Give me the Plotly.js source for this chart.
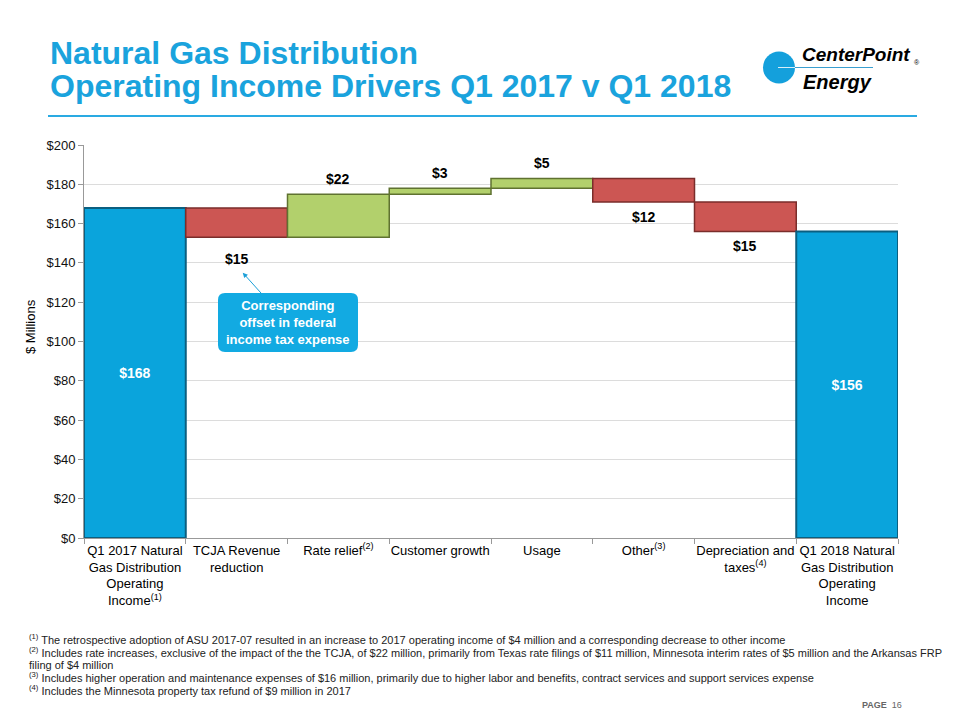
<!DOCTYPE html>
<html>
<head>
<meta charset="utf-8">
<script src="https://cdn.plot.ly/plotly-3.0.1.min.js"></script>
<style>
html,body{margin:0;padding:0;background:#fff;}
#chart{width:960px;height:720px;}
</style>
</head>
<body>
<div id="chart"></div>
<script>
// ---- data ----
const categories = [
  "Q1 2017 Natural<br>Gas Distribution<br>Operating<br>Income<sup>(1)</sup>",
  "TCJA Revenue<br>reduction",
  "Rate relief<sup>(2)</sup>",
  "Customer growth",
  "Usage",
  "Other<sup>(3)</sup>",
  "Depreciation and<br>taxes<sup>(4)</sup>",
  "Q1 2018 Natural<br>Gas Distribution<br>Operating<br>Income"
];
const measures = ["absolute","relative","relative","relative","relative","relative","relative","total"];
const values = [168, -15, 22, 3, 5, -12, -15, 0];
const tickVals = [0, 20, 40, 60, 80, 100, 120, 140, 160, 180, 200];
const footnotes = [
  "<sup>(1)</sup> The retrospective adoption of ASU 2017-07 resulted in an increase to 2017 operating income of $4 million and a corresponding decrease to other income",
  "<sup>(2)</sup> Includes rate increases, exclusive of the impact of the the TCJA, of $22 million, primarily from Texas rate filings of $11 million, Minnesota interim rates of $5 million and the Arkansas FRP",
  "filing of $4 million",
  "<sup>(3)</sup> Includes higher operation and maintenance expenses of $16 million, primarily due to higher labor and benefits, contract services and support services expense",
  "<sup>(4)</sup> Includes the Minnesota property tax refund of $9 million in 2017"
];

const FONT = "Arial, 'Liberation Sans', sans-serif";
const BLUE = "#0aa4dc";

// pixel -> paper helpers (plot area: x 84..898, y 145..538)
const L = 84, T = 145, W = 814, H = 393;
const px = p => (p - L) / W;
const py = p => (T + H - p) / H;

// running totals for labels
let run = 0;
const ends = [];
values.forEach((v, i) => {
  if (measures[i] === "absolute") run = v;
  else if (measures[i] === "relative") run += v;
  ends.push(run);
});
const insideText = values.map((v, i) => measures[i] === "relative" ? "" : "$" + ends[i]);

const annotations = [];
values.forEach((v, i) => {
  if (measures[i] !== "relative") return;
  const top = Math.max(ends[i], ends[i] - v);
  const bottom = Math.min(ends[i], ends[i] - v);
  annotations.push({
    x: categories[i], y: v > 0 ? top : bottom, xref: "x", yref: "y",
    text: "<b>$" + Math.abs(v) + "</b>", showarrow: false,
    yshift: v > 0 ? 15 : (i === 1 ? -22 : -15),
    font: {family: FONT, size: 14, color: "#000"}
  });
});

// callout (rounded box drawn as shape)
annotations.push({
  x: 1.06, y: 135, xref: "x", yref: "y",
  ax: 45, ay: 50,
  text: "<b>Corresponding<br>offset in federal<br>income tax expense</b>",
  showarrow: true, arrowhead: 2, arrowsize: 1, arrowwidth: 1, arrowcolor: "#1a9fd8",
  borderpad: 4,
  font: {family: FONT, size: 13, color: "#fff"}, align: "center"
});

// title (two lines)
annotations.push({
  xref: "paper", yref: "paper", x: px(48), y: py(53), xanchor: "left", yanchor: "middle",
  text: "<b>Natural Gas Distribution</b>", showarrow: false,
  font: {family: FONT, size: 32, color: "#1aa3dd"}
});
annotations.push({
  xref: "paper", yref: "paper", x: px(48), y: py(86), xanchor: "left", yanchor: "middle",
  text: "<b>Operating Income Drivers Q1 2017 v Q1 2018</b>", showarrow: false,
  font: {family: FONT, size: 32, color: "#1aa3dd"}
});

// y axis title
annotations.push({
  xref: "paper", yref: "paper", x: px(30), y: py(327), xanchor: "center", yanchor: "middle",
  text: "$ Millions", textangle: -90, showarrow: false,
  font: {family: FONT, size: 13, color: "#000"}
});

// logo text
annotations.push({
  xref: "paper", yref: "paper", x: px(800), y: py(54), xanchor: "left", yanchor: "middle",
  text: "<b><i>CenterPoint</i></b>", showarrow: false,
  font: {family: FONT, size: 19, color: "#000"}
});
annotations.push({
  xref: "paper", yref: "paper", x: px(912), y: py(62), xanchor: "left", yanchor: "middle",
  text: "®", showarrow: false,
  font: {family: FONT, size: 7, color: "#000"}
});
annotations.push({
  xref: "paper", yref: "paper", x: px(801), y: py(82), xanchor: "left", yanchor: "middle",
  text: "<b><i>Energy</i></b>", showarrow: false,
  font: {family: FONT, size: 20, color: "#000"}
});

// footnotes
const fnY = [639, 652, 665, 677, 690];
footnotes.forEach((t, i) => {
  annotations.push({
    xref: "paper", yref: "paper", x: px(27), y: py(fnY[i]),
    xanchor: "left", yanchor: "middle", text: t, showarrow: false, align: "left",
    font: {family: FONT, size: 11, color: "#222"}
  });
});
annotations.push({
  xref: "paper", yref: "paper", x: px(904), y: py(705),
  xanchor: "right", yanchor: "middle", text: "<b>PAGE</b>  16", showarrow: false,
  font: {family: FONT, size: 9, color: "#666"}
});

// rounded rectangle path for callout box (pixel extents -> paper)
function roundRect(x0, y0, x1, y1, r) {
  const P = (x, y) => px(x) + "," + py(y);
  return "M" + P(x0 + r, y0) + " L" + P(x1 - r, y0) + " Q" + P(x1, y0) + " " + P(x1, y0 + r) +
    " L" + P(x1, y1 - r) + " Q" + P(x1, y1) + " " + P(x1 - r, y1) +
    " L" + P(x0 + r, y1) + " Q" + P(x0, y1) + " " + P(x0, y1 - r) +
    " L" + P(x0, y0 + r) + " Q" + P(x0, y0) + " " + P(x0 + r, y0) + " Z";
}

const trace = {
  type: "waterfall",
  x: categories,
  y: values,
  measure: measures,
  text: insideText,
  textposition: "inside",
  insidetextanchor: "middle",
  textfont: {family: FONT, size: 14, color: "#fff", weight: "bold"},
  connector: {visible: false},
  increasing: {marker: {color: "#b2d06c", line: {color: "#5f7230", width: 1.5}}},
  decreasing: {marker: {color: "#cc5653", line: {color: "#7a2d2b", width: 1.5}}},
  totals: {marker: {color: BLUE, line: {color: "#0b5f80", width: 2}}},
  hoverinfo: "skip"
};

const layout = {
  width: 960, height: 720,
  margin: {l: L, r: 960 - L - W, t: T, b: 720 - T - H},
  paper_bgcolor: "#fff", plot_bgcolor: "#fff",
  showlegend: false,
  waterfallgap: 0,
  font: {family: FONT, size: 13, color: "#000"},
  xaxis: {
    type: "category",
    tickson: "boundaries", ticks: "outside", ticklen: 5, tickcolor: "#999",
    showline: true, linecolor: "#999", linewidth: 1,
    tickfont: {family: FONT, size: 13, color: "#000"},
    tickangle: 0, automargin: false
  },
  yaxis: {
    range: [0, 200],
    tickvals: tickVals, ticktext: tickVals.map(v => "$" + v),
    ticks: "outside", ticklen: 5, tickcolor: "#999",
    showline: true, linecolor: "#999", linewidth: 1,
    gridcolor: "#dcdcdc", gridwidth: 1, zeroline: false,
    tickfont: {family: FONT, size: 13, color: "#111"},
    automargin: false
  },
  shapes: [
    {type: "line", xref: "paper", yref: "paper",
     x0: px(48), x1: px(917), y0: py(116), y1: py(116),
     line: {color: "#2aaae2", width: 2}},
    {type: "circle", xref: "paper", yref: "paper",
     x0: px(763), x1: px(795), y0: py(83.5), y1: py(51.5),
     fillcolor: "#14a0dc", line: {width: 0}},
    {type: "line", xref: "paper", yref: "paper",
     x0: px(778), x1: px(795), y0: py(67.5), y1: py(67.5),
     line: {color: "#d8eef8", width: 1}},
    {type: "line", xref: "paper", yref: "paper",
     x0: px(795), x1: px(873), y0: py(67.5), y1: py(67.5),
     line: {color: "#3a9fd0", width: 1}},
    {type: "path", xref: "paper", yref: "paper", layer: "above",
     path: roundRect(218, 293, 358, 352, 7),
     fillcolor: "#12aae2", line: {width: 0}}
  ],
  annotations: annotations
};

Plotly.newPlot("chart", [trace], layout, {displayModeBar: false, staticPlot: true});
</script>
</body>
</html>
